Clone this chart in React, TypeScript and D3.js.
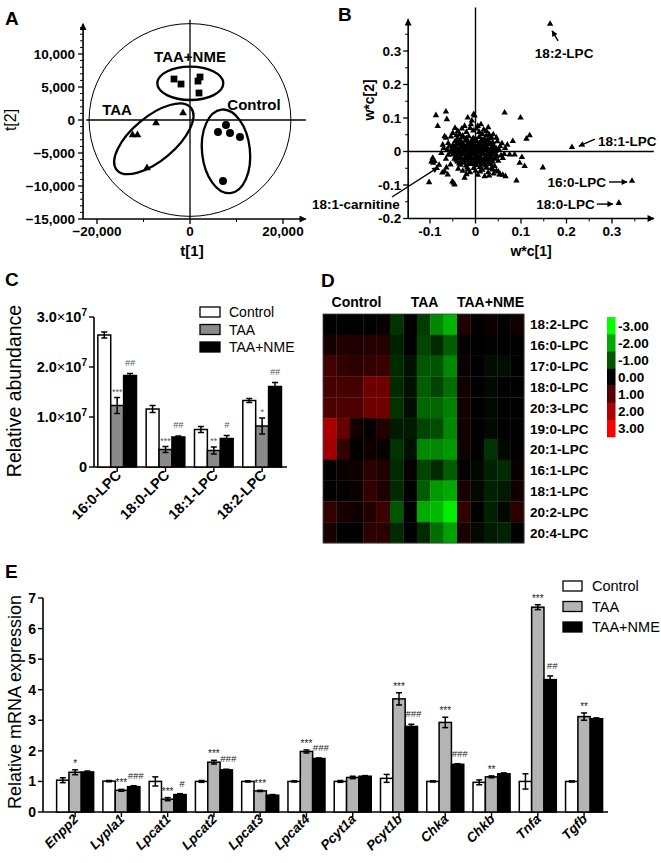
import React from 'react';
import * as d3 from 'd3';

const FONT = '"Liberation Sans", Arial, Helvetica, sans-serif';

// ---------- Panel A: PCA scores ----------
const pcaControl: [number, number][] = [[7740, -760], [6020, -1820], [8600, -1970], [10750, -2575], [7100, -9240]];
const pcaTAA: [number, number][] = [[-1500, 1060], [-7300, -450], [-12350, -2270], [-11300, -2270], [-9250, -7270]];
const pcaNME: [number, number][] = [[-3440, 6210], [-1935, 5450], [2150, 6515], [1720, 5900], [1935, 4090]];
const pcaYTicks = [-15000, -10000, -5000, 0, 5000, 10000];
const pcaXTicks = [-20000, 0, 20000];
const pcaXMinor = [-10000, 10000];
// group ellipses: center (data), radii (data, x units), angle (deg)
const pcaEllipses = [
  { name: 'TAA+NME', cx: 65, cy: 5560, rx: 7100, ry: 3590, angle: 0 },
  { name: 'TAA', cx: -7780, cy: -2850, rx: 10400, ry: 4700, angle: -40 },
  { name: 'Control', cx: 7740, cy: -4750, rx: 5150, ry: 9030, angle: -6 },
];

// ---------- Panel B: loadings (thousandths) ----------
const loadingNamed = [
  { name: '18:2-LPC', x: 0.164, y: 0.381 },
  { name: '18:1-LPC', x: 0.212, y: 0.013 },
  { name: '16:0-LPC', x: 0.344, y: -0.088 },
  { name: '18:0-LPC', x: 0.315, y: -0.154 },
];
const loadingOuter = [
  -87, 108, -65, 119, -63, 96, -83, 76, -17, 101, -4, 111, -2, 107, 64, 116, 99, 101, 119, 48, 112, 38, 82, 31,
  86, -9, 102, -17, 108, -44, 90, -87, 66, -74, 60, -70, 54, -68, 50, -60, 20, -74, 10, -60, -48, -94, -102, -92,
  -90, -29, -94, -19, -97, -30, -93, -34, -61, -69, -68, -59, -73, -63, -64, -48, -55, -39, -46, -99, -51, -90,
  -24, -79, -17, -54, -65, 41, -54, 44, -68, 45, -39, 61, -24, 76, -10, 81, 5, 76, 12, 81, 24, 61, 39, 51, 46, 41,
  54, 16, 63, -8, 75, -9, 97, -34, 50, -28, 42, -44, 38, -54, 53, -69, 148, -48, -45, 70, -30, 68, -8, 92, 28, 72,
  -72, 20, -60, 25, 70, 20, -50, 55, -35, 52, -20, 58, -5, 62, 8, 58, 18, 65, 30, 50, -42, 48, -12, 70, 2, 68,
  15, 52, 35, 42, -28, 47, 24, 48, -38, -52, -28, -58, -12, -62, 0, -58, 15, -55, 28, -62, 35, -50, -20, -68,
  5, -70, 40, -66, 46, -58, 30, -72, 52, 5, 56, -12, 58, 24, 48, 30, 60, -20, 65, 10, -62, 5, -60, -10, -58, 15,
  -65, -22, -70, 10, -75, -5, -80, -40, -85, -50,
];
const loadingCore = [
  -40, 38, -28, 42, -15, 45, -5, 40, 8, 43, 20, 38, 32, 40,
  -45, 30, -35, 28, -22, 32, -10, 27, 2, 31, 14, 29, 26, 33, 38, 27,
  -50, 18, -38, 22, -27, 17, -16, 21, -4, 19, 7, 22, 18, 18, 29, 21, 40, 17,
  -52, 8, -42, 11, -31, 9, -20, 12, -9, 8, 3, 11, 13, 9, 24, 12, 35, 8, 45, 10,
  -54, -2, -44, 1, -33, -1, -22, 2, -11, -2, 0, 1, 11, -1, 22, 2, 33, -2, 44, 1,
  -50, -9, -40, -12, -29, -8, -18, -11, -7, -9, 4, -12, 15, -8, 26, -11, 37, -9, 47, -12,
  -46, -22, -35, -18, -24, -21, -13, -19, -2, -22, 9, -18, 20, -21, 31, -19, 42, -22,
  -40, -30, -29, -32, -18, -28, -7, -31, 4, -29, 15, -32, 26, -28, 37, -31,
  -33, -40, -21, -42, -10, -38, 1, -41, 12, -39, 23, -42, 34, -38,
  -18, -48, -4, -50, 10, -47, 24, -49,
  -34, 35, -20, 36, -8, 34, 14, 36, 27, 35,
  -40, 25, -28, 24, -16, 26, -3, 24, 10, 25, 22, 27, 34, 24,
  -45, 14, -33, 15, -21, 14, -10, 16, 1, 14, 12, 15, 24, 16, 36, 14,
  -47, 4, -36, 6, -26, 4, -15, 6, -4, 5, 8, 4, 18, 6, 29, 4, 40, 5,
  -48, -5, -38, -6, -27, -4, -16, -6, -5, -5, 6, -4, 17, -6, 28, -5, 39, -4,
  -44, -15, -33, -14, -22, -16, -11, -15, 0, -14, 11, -16, 22, -15, 33, -14, 44, -16,
  -42, -25, -30, -26, -19, -24, -8, -26, 3, -25, 14, -24, 25, -26, 36, -25,
  -36, -36, -25, -34, -14, -36, -3, -35, 8, -34, 19, -36, 30, -34,
  -30, 20, -12, 22, 5, 18, 20, 10, -25, 0, -5, -1, 15, -3, -35, -20, -15, -20, 10, -25, 30, -23, -20, 40, 0, 38,
];
const loadingYTicks = [-0.2, -0.1, 0, 0.1, 0.2, 0.3];
const loadingXTicks = [-0.1, 0, 0.1, 0.2, 0.3];

// ---------- Panel C: LPC abundance ----------
const lpcCategories = ['16:0-LPC', '18:0-LPC', '18:1-LPC', '18:2-LPC'];
const seriesNames = ['Control', 'TAA', 'TAA+NME'];
const lpcControl = [2.64e7, 1.16e7, 0.75e7, 1.33e7];
const lpcControlErr = [0.06e7, 0.07e7, 0.06e7, 0.04e7];
const lpcTAA = [1.23e7, 0.35e7, 0.33e7, 0.82e7];
const lpcTAAErr = [0.16e7, 0.06e7, 0.07e7, 0.16e7];
const lpcNME = [1.83e7, 0.6e7, 0.57e7, 1.61e7];
const lpcNMEErr = [0.04e7, 0.02e7, 0.06e7, 0.08e7];
const lpcTAASig = ['***', '***', '**', '*'];
const lpcNMESig = ['##', '##', '#', '##'];
const lpcYTicks = [0, 1e7, 2e7, 3e7];

// ---------- Panel D: heatmap ----------
const heatRows = ['18:2-LPC', '16:0-LPC', '17:0-LPC', '18:0-LPC', '20:3-LPC', '19:0-LPC', '20:1-LPC', '16:1-LPC', '18:1-LPC', '20:2-LPC', '20:4-LPC'];
const heatGroups = ['Control', 'TAA', 'TAA+NME'];
const heatValues = [
  [0, 0, 0, 0, 0.1, -0.6, 0, -0.7, -1.6, -2.1, 0.35, 0.05, 0.15, 0, 0.2],
  [0.3, 0.4, 0.35, 0.45, 0.45, -0.4, 0, -0.8, -0.5, -1.1, 0, 0, -0.05, 0, 0],
  [0.8, 0.6, 0.5, 0.6, 0.7, -0.5, -0.2, -1.0, -1.0, -1.6, 0.1, 0, -0.15, -0.15, 0],
  [0.8, 0.8, 0.8, 1.3, 1.3, -0.5, -0.2, -1.1, -0.8, -1.3, 0.2, 0, -0.1, 0, 0.05],
  [0.9, 0.9, 0.9, 1.3, 1.3, -0.6, -0.15, -1.2, -1.2, -1.5, 0.2, 0, -0.1, 0, 0.05],
  [2.0, 1.2, 0.2, 0.05, 0.4, -0.3, -0.3, -0.8, -0.9, -1.6, 0.2, 0, -0.1, 0, 0.05],
  [1.9, 0.6, 0, 0.2, 0.1, -0.6, -0.2, -1.6, -1.6, -1.8, 0.2, 0, -0.6, -0.1, 0.05],
  [0, 0.1, 0.2, 0.5, 0.4, -0.5, 0.1, -0.8, -0.5, -1.1, 0, -0.1, -0.4, -0.5, 0.1],
  [0.05, 0.05, 0.15, 0.6, 0.35, -0.5, 0, -1.1, -1.8, -2.0, 0.3, -0.1, -0.4, -0.3, 0.2],
  [0.6, 0.3, 0.2, 0.4, 0.7, -1.0, 0, -2.0, -2.2, -2.8, 0.6, 0, -0.4, -0.1, 0.5],
  [0.3, 0, 0, 0.5, 0.5, -0.5, 0, -0.5, -1.3, -1.9, 0.3, -0.1, -0.3, -0.4, 0],
];
const heatLegendTicks = [-3, -2, -1, 0, 1, 2, 3];

// ---------- Panel E: mRNA ----------
const genes = ['Enpp2', 'Lypla1', 'Lpcat1', 'Lpcat2', 'Lpcat3', 'Lpcat4', 'Pcyt1a', 'Pcyt1b', 'Chka', 'Chkb', 'Tnfa', 'Tgfb'];
const mrnaControl = [1.04, 1.01, 1.0, 1.0, 1.0, 1.0, 1.0, 1.1, 1.0, 0.97, 1.0, 1.0];
const mrnaControlErr = [0.08, 0.02, 0.15, 0.03, 0.02, 0.02, 0.03, 0.13, 0.02, 0.08, 0.25, 0.02];
const mrnaTAA = [1.3, 0.71, 0.42, 1.63, 0.69, 1.98, 1.13, 3.7, 2.93, 1.15, 6.7, 3.12];
const mrnaTAAErr = [0.08, 0.03, 0.05, 0.06, 0.02, 0.05, 0.04, 0.2, 0.17, 0.03, 0.08, 0.12];
const mrnaNME = [1.31, 0.83, 0.57, 1.38, 0.55, 1.75, 1.17, 2.8, 1.56, 1.25, 4.33, 3.05];
const mrnaNMEErr = [0.03, 0.03, 0.03, 0.02, 0.02, 0.02, 0.02, 0.07, 0.02, 0.03, 0.12, 0.03];
const mrnaTAASig = ['*', '***', '***', '***', '***', '***', '', '***', '***', '**', '***', '**'];
const mrnaNMESig = ['', '###', '#', '###', '', '###', '', '###', '###', '', '##', ''];
const mrnaYTicks = [0, 1, 2, 3, 4, 5, 6, 7];

const barFills = ['#ffffff', '#8a8a8a', '#000000'];
const barFillsE = ['#ffffff', '#b4b4b4', '#000000'];

function pairs(arr: number[]) {
  const out: [number, number][] = [];
  for (let i = 0; i < arr.length; i += 2) out.push([arr[i] / 1000, arr[i + 1] / 1000]);
  return out;
}

function ErrorBar({ x, y0, y1, w = 6 }: { x: number; y0: number; y1: number; w?: number }) {
  return (
    <g stroke="#000" strokeWidth={1.5}>
      <line x1={x} x2={x} y1={y0} y2={y1} />
      <line x1={x - w / 2} x2={x + w / 2} y1={y0} y2={y0} />
      <line x1={x - w / 2} x2={x + w / 2} y1={y1} y2={y1} />
    </g>
  );
}

export default function App() {
  // ---------- scales ----------
  const xA = d3.scaleLinear().domain([-20000, 20000]).range([97, 283]);
  const yA = d3.scaleLinear().domain([-15000, 10000]).range([219, 54]);
  const xB = d3.scaleLinear().domain([0, 0.3]).range([475.5, 612]);
  const yB = d3.scaleLinear().domain([-0.2, 0.3]).range([218.5, 51]);
  const xC = d3.scaleBand<string>().domain(lpcCategories).range([93, 286.3]).paddingInner(0.2).paddingOuter(0.1);
  const xCs = d3.scaleBand<string>().domain(seriesNames).range([0, xC.bandwidth()]);
  const yC = d3.scaleLinear().domain([0, 3e7]).range([467, 317]);
  const xH = d3.scaleBand<number>().domain(d3.range(15)).range([323, 524]);
  const yH = d3.scaleBand<string>().domain(heatRows).range([314, 543]);
  const heatColor = d3.scaleLinear<string>().domain([-3, 0, 3]).range(['#00ff00', '#000000', '#ff0000']).clamp(true);
  const yHL = d3.scaleBand<number>().domain(heatLegendTicks).range([317, 437]);
  const xE = d3.scaleBand<string>().domain(genes).range([52, 607.2]).paddingInner(0.2).paddingOuter(0.1);
  const xEs = d3.scaleBand<string>().domain(seriesNames).range([0, xE.bandwidth()]);
  const yE = d3.scaleLinear().domain([0, 7]).range([812, 598]);

  const sq = d3.symbol(d3.symbolSquare, 46)()!;
  const triA = d3.symbol(d3.symbolTriangle, 26)()!;
  const circ = d3.symbol(d3.symbolCircle, 50)()!;
  const triB = d3.symbol(d3.symbolTriangle, 18)()!;

  const aMinorY: number[] = [];
  for (let v = -15000; v <= 14000; v += 1000) if (v % 5000 !== 0) aMinorY.push(v);
  const bMinorY = [-0.15, -0.05, 0.05, 0.15, 0.25, 0.35];
  const bMinorX = [-0.05, 0.05, 0.15, 0.25, 0.35];

  const fmtB = (v: number) => (Math.abs(v) < 1e-9 ? '0' : v.toFixed(1));
  const fmtA = d3.format(',');

  const lpcSeries = [
    { v: lpcControl, e: lpcControlErr },
    { v: lpcTAA, e: lpcTAAErr },
    { v: lpcNME, e: lpcNMEErr },
  ];
  const mrnaSeries = [
    { v: mrnaControl, e: mrnaControlErr },
    { v: mrnaTAA, e: mrnaTAAErr },
    { v: mrnaNME, e: mrnaNMEErr },
  ];

  const axisStroke = 1.6;

  return (
    <svg width={661} height={863} style={{ position: 'absolute', left: 0, top: 0, background: '#fff' }} fontFamily={FONT}>
      <defs>
        <marker id="axArrow" markerUnits="userSpaceOnUse" viewBox="0 0 10 10" refX="9" refY="5" markerWidth="9" markerHeight="7" orient="auto">
          <path d="M0,0L10,5L0,10z" fill="#000" />
        </marker>
        <marker id="annArrow" markerUnits="userSpaceOnUse" viewBox="0 0 10 10" refX="9" refY="5" markerWidth="7" markerHeight="6" orient="auto">
          <path d="M0,0L10,5L0,10z" fill="#000" />
        </marker>
      </defs>
      <rect x={0} y={0} width={661} height={863} fill="#fff" />

      {/* ================= Panel A ================= */}
      <text x={5} y={25} fontSize={19} fontWeight="bold">A</text>
      <ellipse cx={xA(0)} cy={yA(0)} rx={xA(21700) - xA(0)} ry={yA(0) - yA(14600)} fill="none" stroke="#000" strokeWidth={1} />
      <line x1={xA(-22300)} x2={xA(24900)} y1={yA(0)} y2={yA(0)} stroke="#000" strokeWidth={1.3} />
      <line x1={xA(0)} x2={xA(0)} y1={yA(-15000)} y2={yA(15200)} stroke="#000" strokeWidth={1.3} />
      {/* axes */}
      <line x1={xA(-23000)} x2={xA(-23000)} y1={yA(-15000)} y2={yA(14600)} stroke="#000" strokeWidth={axisStroke} markerEnd="url(#axArrow)" />
      <line x1={xA(-23000)} x2={xA(24900)} y1={yA(-15000)} y2={yA(-15000)} stroke="#000" strokeWidth={axisStroke} markerEnd="url(#axArrow)" />
      {pcaYTicks.map((v) => (
        <g key={'ay' + v}>
          <line x1={xA(-23000) - 5} x2={xA(-23000)} y1={yA(v)} y2={yA(v)} stroke="#000" strokeWidth={1.3} />
          <text x={xA(-23000) - 8} y={yA(v) + 4.5} fontSize={13.5} fontWeight="bold" textAnchor="end">{fmtA(v)}</text>
        </g>
      ))}
      {aMinorY.map((v) => (
        <line key={'aym' + v} x1={xA(-23000) - 3} x2={xA(-23000)} y1={yA(v)} y2={yA(v)} stroke="#000" strokeWidth={1} />
      ))}
      {pcaXTicks.map((v) => (
        <g key={'ax' + v}>
          <line x1={xA(v)} x2={xA(v)} y1={yA(-15000)} y2={yA(-15000) + 5} stroke="#000" strokeWidth={1.3} />
          <text x={xA(v)} y={236} fontSize={13.5} fontWeight="bold" textAnchor="middle">{fmtA(v)}</text>
        </g>
      ))}
      {pcaXMinor.map((v) => (
        <line key={'axm' + v} x1={xA(v)} x2={xA(v)} y1={yA(-15000)} y2={yA(-15000) + 3} stroke="#000" strokeWidth={1} />
      ))}
      <text transform="translate(16,120) rotate(-90)" fontSize={16} textAnchor="middle">t[2]</text>
      <text x={192} y={256} fontSize={15} fontWeight="bold" textAnchor="middle">t[1]</text>
      {pcaEllipses.map((e) => {
        const cx = xA(e.cx);
        const cy = yA(e.cy);
        const rx = xA(e.rx) - xA(0);
        const ry = xA(e.ry) - xA(0);
        return (
          <ellipse key={e.name} cx={cx} cy={cy} rx={rx} ry={ry} transform={`rotate(${e.angle},${cx},${cy})`} fill="none" stroke="#000" strokeWidth={2.3} />
        );
      })}
      {pcaNME.map(([x, y], i) => (
        <path key={'pn' + i} d={sq} transform={`translate(${xA(x)},${yA(y)})`} fill="#000" />
      ))}
      {pcaTAA.map(([x, y], i) => (
        <path key={'pt' + i} d={triA} transform={`translate(${xA(x)},${yA(y)})`} fill="#000" />
      ))}
      {pcaControl.map(([x, y], i) => (
        <path key={'pc' + i} d={circ} transform={`translate(${xA(x)},${yA(y)})`} fill="#000" />
      ))}
      <text x={190} y={62} fontSize={15} fontWeight="bold" textAnchor="middle">TAA+NME</text>
      <text x={117} y={115} fontSize={15} fontWeight="bold" textAnchor="middle">TAA</text>
      <text x={254} y={110} fontSize={15} fontWeight="bold" textAnchor="middle">Control</text>

      {/* ================= Panel B ================= */}
      <text x={338} y={21} fontSize={19} fontWeight="bold">B</text>
      <line x1={xB(0)} x2={xB(0)} y1={yB(-0.2)} y2={yB(0.43)} stroke="#000" strokeWidth={1.4} />
      <line x1={xB(-0.148)} x2={xB(0.392)} y1={yB(0)} y2={yB(0)} stroke="#000" strokeWidth={1.4} />
      <line x1={xB(-0.148)} x2={xB(-0.148)} y1={yB(-0.2)} y2={yB(0.395)} stroke="#000" strokeWidth={axisStroke} markerEnd="url(#axArrow)" />
      <line x1={xB(-0.148)} x2={xB(0.392)} y1={yB(-0.2)} y2={yB(-0.2)} stroke="#000" strokeWidth={axisStroke} markerEnd="url(#axArrow)" />
      {loadingYTicks.map((v) => (
        <g key={'by' + v}>
          <line x1={xB(-0.148) - 5} x2={xB(-0.148)} y1={yB(v)} y2={yB(v)} stroke="#000" strokeWidth={1.3} />
          <text x={xB(-0.148) - 7} y={yB(v) + 4.5} fontSize={13.5} fontWeight="bold" textAnchor="end">{fmtB(v)}</text>
        </g>
      ))}
      {bMinorY.map((v) => (
        <line key={'bym' + v} x1={xB(-0.148) - 3} x2={xB(-0.148)} y1={yB(v)} y2={yB(v)} stroke="#000" strokeWidth={1} />
      ))}
      {loadingXTicks.map((v) => (
        <g key={'bx' + v}>
          <line x1={xB(v)} x2={xB(v)} y1={yB(-0.2)} y2={yB(-0.2) + 5} stroke="#000" strokeWidth={1.3} />
          <text x={xB(v)} y={236} fontSize={13.5} fontWeight="bold" textAnchor="middle">{fmtB(v)}</text>
        </g>
      ))}
      {bMinorX.map((v) => (
        <line key={'bxm' + v} x1={xB(v)} x2={xB(v)} y1={yB(-0.2)} y2={yB(-0.2) + 3} stroke="#000" strokeWidth={1} />
      ))}
      <text transform="translate(374,100) rotate(-90)" fontSize={14} fontWeight="bold" textAnchor="middle">w*c[2]</text>
      <text x={531} y={256} fontSize={14} fontWeight="bold" textAnchor="middle">w*c[1]</text>
      {pairs(loadingOuter).concat(pairs(loadingCore)).map(([x, y], i) => (
        <path key={'lb' + i} d={triB} transform={`translate(${xB(x)},${yB(y)})`} fill="#000" />
      ))}
      {loadingNamed.map((p) => (
        <path key={'ln' + p.name} d={triB} transform={`translate(${xB(p.x)},${yB(p.y)})`} fill="#000" />
      ))}
      {/* annotations */}
      {(() => {
        const p0 = loadingNamed[0], p1 = loadingNamed[1], p2 = loadingNamed[2], p3 = loadingNamed[3];
        const a0 = [xB(p0.x), yB(p0.y)];
        const a1 = [xB(p1.x), yB(p1.y)];
        const a2 = [xB(p2.x), yB(p2.y)];
        const a3 = [xB(p3.x), yB(p3.y)];
        return (
          <g fontSize={13.5} fontWeight="bold">
            <line x1={a0[0] + 8} y1={a0[1] + 17} x2={a0[0] + 2} y2={a0[1] + 7} stroke="#000" strokeWidth={1.4} markerEnd="url(#annArrow)" />
            <text x={a0[0] + 14} y={a0[1] + 34} textAnchor="middle">{p0.name}</text>
            <line x1={a1[0] + 23} y1={a1[1] - 8} x2={a1[0] + 7} y2={a1[1] - 1} stroke="#000" strokeWidth={1.4} markerEnd="url(#annArrow)" />
            <text x={a1[0] + 26} y={a1[1] - 1}>{p1.name}</text>
            <line x1={a2[0] - 23} y1={a2[1] + 1} x2={a2[0] - 5} y2={a2[1] + 1} stroke="#000" strokeWidth={1.4} markerEnd="url(#annArrow)" />
            <text x={a2[0] - 26} y={a2[1] + 6} textAnchor="end">{p2.name}</text>
            <line x1={a3[0] - 22} y1={a3[1] + 1} x2={a3[0] - 6} y2={a3[1] + 1} stroke="#000" strokeWidth={1.4} markerEnd="url(#annArrow)" />
            <text x={a3[0] - 24} y={a3[1] + 6} textAnchor="end">{p3.name}</text>
            <line x1={392} y1={197} x2={xB(-0.083)} y2={yB(-0.048)} stroke="#000" strokeWidth={1.3} markerEnd="url(#annArrow)" />
            <text x={312} y={209}>18:1-carnitine</text>
          </g>
        );
      })()}

      {/* ================= Panel C ================= */}
      <text x={5} y={286} fontSize={19} fontWeight="bold">C</text>
      <text transform="translate(21,391) rotate(-90)" fontSize={19.5} textAnchor="middle">Relative abundance</text>
      <line x1={94} x2={94} y1={yC(0)} y2={yC(3e7)} stroke="#000" strokeWidth={axisStroke} />
      <line x1={94} x2={287} y1={yC(0)} y2={yC(0)} stroke="#000" strokeWidth={axisStroke} />
      {lpcYTicks.map((v) => (
        <g key={'cy' + v}>
          <line x1={89} x2={94} y1={yC(v)} y2={yC(v)} stroke="#000" strokeWidth={1.4} />
          <text x={87} y={yC(v) + 5} fontSize={14.5} fontWeight="bold" textAnchor="end">
            {v === 0 ? '0' : (
              <>
                <tspan>{(v / 1e7).toFixed(1)}</tspan>
                <tspan fontWeight="normal">×</tspan>
                <tspan>10</tspan>
                <tspan dy={-6} fontSize={10}>7</tspan>
              </>
            )}
          </text>
        </g>
      ))}
      {lpcCategories.map((c, i) => {
        const gx = xC(c)!;
        const cx = gx + xC.bandwidth() / 2;
        return (
          <g key={'cg' + c}>
            <line x1={cx} x2={cx} y1={yC(0)} y2={yC(0) + 5} stroke="#000" strokeWidth={1.4} />
            {lpcSeries.map((s, k) => {
              const x = gx + xCs(seriesNames[k])!;
              const w = xCs.bandwidth();
              return (
                <g key={k}>
                  <rect x={x} y={yC(s.v[i])} width={w} height={yC(0) - yC(s.v[i])} fill={barFills[k]} stroke="#000" strokeWidth={1.5} />
                  <ErrorBar x={x + w / 2} y0={yC(s.v[i] - s.e[i])} y1={yC(s.v[i] + s.e[i])} w={6} />
                </g>
              );
            })}
            <text x={gx + xCs('TAA')! + xCs.bandwidth() / 2} y={yC(lpcTAA[i] + lpcTAAErr[i]) - 3} fontSize={9} fill="#555" textAnchor="middle">{lpcTAASig[i]}</text>
            <text x={gx + xCs('TAA+NME')! + xCs.bandwidth() / 2} y={yC(lpcNME[i] + lpcNMEErr[i]) - 8} fontSize={9} fill="#555" fontStyle="italic" textAnchor="middle">{lpcNMESig[i]}</text>
            <text transform={`translate(${cx + 5},${476}) rotate(-45)`} fontSize={14.5} fontWeight="bold" textAnchor="end">{c}</text>
          </g>
        );
      })}
      {seriesNames.map((s, k) => (
        <g key={'cl' + s}>
          <rect x={200} y={307 + k * 17.5} width={20} height={10} fill={barFills[k]} stroke="#000" strokeWidth={1.3} />
          <text x={229} y={317 + k * 17.5} fontSize={14}>{s}</text>
        </g>
      ))}

      {/* ================= Panel D ================= */}
      <text x={321} y={287} fontSize={19} fontWeight="bold">D</text>
      {heatGroups.map((g, gi) => {
        const x0 = xH(gi * 5)!;
        const x1 = xH(gi * 5 + 4)! + xH.bandwidth();
        return (
          <text key={'hg' + g} x={(x0 + x1) / 2 + (gi === 1 ? 1 : 0)} y={307} fontSize={14} fontWeight="bold" textAnchor="middle">{g}</text>
        );
      })}
      {heatValues.map((row, ri) =>
        row.map((v, ci) => (
          <rect key={'h' + ri + '-' + ci} x={xH(ci)!} y={yH(heatRows[ri])!} width={xH.bandwidth() + 0.3} height={yH.bandwidth() + 0.3} fill={heatColor(v)} />
        ))
      )}
      <rect x={323} y={314} width={201} height={229} fill="none" stroke="#444" strokeWidth={0.8} />
      {heatRows.map((r) => (
        <text key={'hr' + r} x={530} y={yH(r)! + yH.bandwidth() / 2 + 5} fontSize={13.5} fontWeight="bold">{r}</text>
      ))}
      {heatLegendTicks.map((t) => (
        <g key={'hl' + t}>
          <rect x={607} y={yHL(t)!} width={8.5} height={yHL.bandwidth() + 0.3} fill={heatColor(t)} />
          <text x={618} y={yHL(t)! + yHL.bandwidth() / 2 + 5} fontSize={13.5} fontWeight="bold">{t.toFixed(2)}</text>
        </g>
      ))}

      {/* ================= Panel E ================= */}
      <text x={5} y={578} fontSize={19} fontWeight="bold">E</text>
      <text transform="translate(21,702) rotate(-90)" fontSize={18} textAnchor="middle">Relative mRNA expression</text>
      <line x1={43} x2={43} y1={yE(0)} y2={yE(7)} stroke="#000" strokeWidth={axisStroke} />
      <line x1={43} x2={608} y1={yE(0)} y2={yE(0)} stroke="#000" strokeWidth={axisStroke} />
      {mrnaYTicks.map((v) => (
        <g key={'ey' + v}>
          <line x1={38} x2={43} y1={yE(v)} y2={yE(v)} stroke="#000" strokeWidth={1.4} />
          <text x={36} y={yE(v) + 5} fontSize={14} fontWeight="bold" textAnchor="end">{v}</text>
        </g>
      ))}
      {genes.map((g, i) => {
        const gx = xE(g)!;
        const cx = gx + xE.bandwidth() / 2;
        const wS = xEs.bandwidth();
        return (
          <g key={'eg' + g}>
            <line x1={cx} x2={cx} y1={yE(0)} y2={yE(0) + 5} stroke="#000" strokeWidth={1.4} />
            {mrnaSeries.map((s, k) => {
              const x = gx + xEs(seriesNames[k])!;
              return (
                <g key={k}>
                  <rect x={x} y={yE(s.v[i])} width={wS} height={yE(0) - yE(s.v[i])} fill={barFillsE[k]} stroke="#000" strokeWidth={1.5} />
                  <ErrorBar x={x + wS / 2} y0={yE(s.v[i] - s.e[i])} y1={yE(s.v[i] + s.e[i])} w={6} />
                </g>
              );
            })}
            <text x={gx + xEs('TAA')! + wS / 2} y={yE(mrnaTAA[i] + mrnaTAAErr[i]) - 3} fontSize={10} fill="#222" textAnchor="middle">{mrnaTAASig[i]}</text>
            <text x={gx + xEs('TAA+NME')! + wS / 2 + 2} y={yE(mrnaNME[i] + mrnaNMEErr[i]) - 7} fontSize={9.5} fill="#222" fontStyle="italic" textAnchor="middle">{mrnaNMESig[i]}</text>
            <text transform={`translate(${cx + 4},${820}) rotate(-45)`} fontSize={13.5} fontWeight="bold" fontStyle="italic" textAnchor="end">{g}</text>
          </g>
        );
      })}
      {seriesNames.map((s, k) => (
        <g key={'el' + s}>
          <rect x={563} y={581 + k * 20.5} width={19} height={10} fill={barFillsE[k]} stroke="#000" strokeWidth={1.3} />
          <text x={592} y={591 + k * 20.5} fontSize={14.5}>{s}</text>
        </g>
      ))}
    </svg>
  );
}
